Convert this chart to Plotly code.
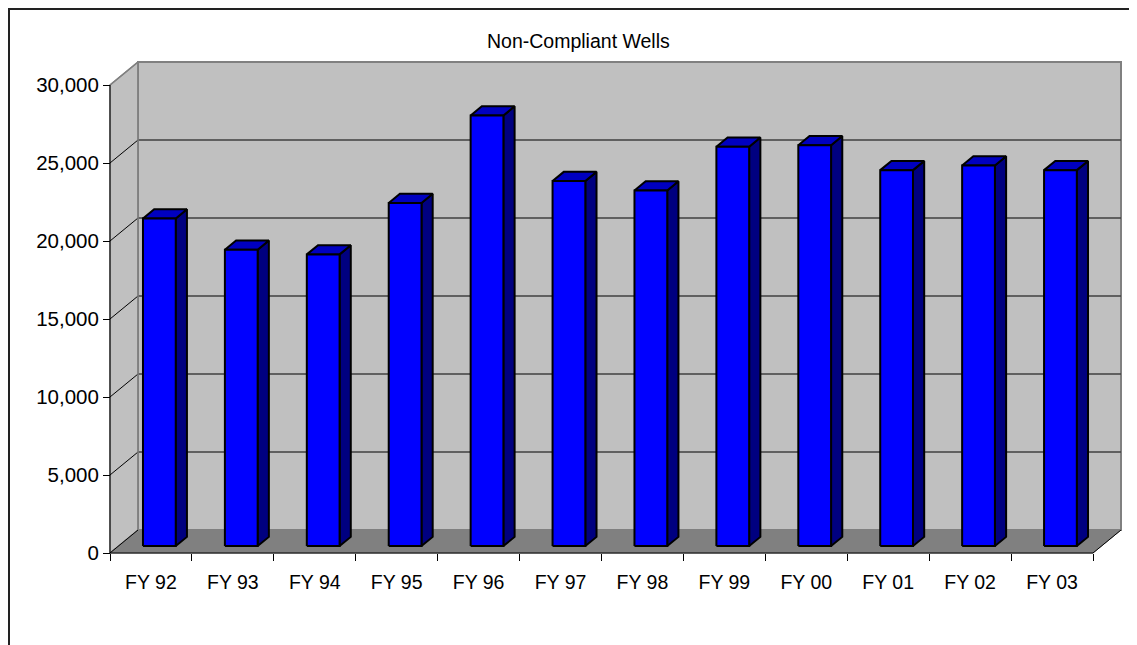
import plotly.graph_objects as go

categories = ["FY 92", "FY 93", "FY 94", "FY 95", "FY 96", "FY 97",
              "FY 98", "FY 99", "FY 00", "FY 01", "FY 02", "FY 03"]
wells = [21000, 19000, 18700, 22000, 27600, 23400,
         22800, 25600, 25700, 24100, 24400, 24100]
y_ticks = [0, 5000, 10000, 15000, 20000, 25000, 30000]
chart_title = "Non-Compliant Wells"

# the page body has an 8px margin, so the figure is shifted by that much
OFF = 8
W, H = 1137 - OFF, 645 - OFF
FONT = "Liberation Sans, Arial, sans-serif"

# front plane of the 3d box (page pixels) and the shift to the back wall
FRONT_L, FRONT_R, FRONT_B, FRONT_T = 110 - OFF, 1093 - OFF, 553 - OFF, 85 - OFF
DEPTH_X_PX, DEPTH_Y_PX = 28, 23
PAD = 4

n = len(categories)
ymax = y_ticks[-1]
cat_px = (FRONT_R - FRONT_L) / n
val_px = (FRONT_B - FRONT_T) / ymax
DX = DEPTH_X_PX / cat_px
DY = DEPTH_Y_PX / val_px

x0, x1 = -0.5, n - 0.5
xr = [x0 - PAD / cat_px, x1 + DX + PAD / cat_px]
yr = [-PAD / val_px, ymax + DY + PAD / val_px]

plot_l = FRONT_L - PAD
plot_b = FRONT_B + PAD
plot_w = (xr[1] - xr[0]) * cat_px
plot_h = (yr[1] - yr[0]) * val_px


def px(x):
    return (x - OFF - plot_l) / plot_w


def py(y):
    return (plot_b - (y - OFF)) / plot_h


def polys(shapes):
    xs, ys = [], []
    for pts in shapes:
        for a, b in pts + [pts[0]]:
            xs.append(a)
            ys.append(b)
        xs.append(None)
        ys.append(None)
    return xs, ys


def segs(lines):
    xs, ys = [], []
    for (a, b), (c, d) in lines:
        xs += [a, c, None]
        ys += [b, d, None]
    return xs, ys


fig = go.Figure()


def add_poly(shapes, fill, line, width):
    xs, ys = polys(shapes)
    fig.add_trace(go.Scatter(x=xs, y=ys, mode="lines", fill="toself",
                             fillcolor=fill, line=dict(color=line, width=width),
                             hoverinfo="skip", showlegend=False))


def add_lines(lines, color, width):
    xs, ys = segs(lines)
    fig.add_trace(go.Scatter(x=xs, y=ys, mode="lines",
                             line=dict(color=color, width=width),
                             hoverinfo="skip", showlegend=False))


# walls and floor
add_poly([[(x0 + DX, DY), (x1 + DX, DY), (x1 + DX, ymax + DY), (x0 + DX, ymax + DY)]],
         "#C0C0C0", "#808080", 2)
add_poly([[(x0, 0), (x0 + DX, DY), (x0 + DX, ymax + DY), (x0, ymax)]],
         "#C0C0C0", "#808080", 1.5)
add_poly([[(x0, 0), (x1, 0), (x1 + DX, DY), (x0 + DX, DY)]],
         "#808080", "#808080", 1)

# gridlines
grid = [v for v in y_ticks if 0 < v < ymax]
add_lines([((x0 + DX, v + DY), (x1 + DX, v + DY)) for v in grid], "#404040", 1.5)
add_lines([((x0, v), (x0 + DX, v + DY)) for v in grid], "#000000", 1)
add_lines([((x0, ymax), (x0 + DX, ymax + DY)), ((x0 + DX, DY), (x0 + DX, ymax + DY))],
          "#808080", 1.5)

# axis lines of the box
add_lines([((x0, 0), (x1, 0)), ((x0, 0), (x0, ymax)),
           ((x1, 0), (x1 + DX, DY)), ((x0, 0), (x0 + DX, DY))], "#000000", 1)

# bars
f1, f2, hw = 0.3, 0.7, 0.2
fronts, sides, tops = [], [], []
for i, v in enumerate(wells):
    la, ra = i - hw + f1 * DX, i + hw + f1 * DX
    lb, rb = i - hw + f2 * DX, i + hw + f2 * DX
    ya, yb = f1 * DY, f2 * DY
    fronts.append([(la, ya), (ra, ya), (ra, ya + v), (la, ya + v)])
    sides.append([(ra, ya), (rb, yb), (rb, yb + v), (ra, ya + v)])
    tops.append([(la, ya + v), (ra, ya + v), (rb, yb + v), (lb, yb + v)])

add_poly(sides, "#000080", "#000000", 2)
add_poly(tops, "#0000C0", "#000000", 2)
add_poly(fronts, "#0000FF", "#000000", 2)

fig.update_layout(
    width=W, height=H,
    margin=dict(l=plot_l, r=W - plot_l - plot_w, t=plot_b - plot_h, b=H - plot_b,
                pad=0, autoexpand=False),
    paper_bgcolor="white", plot_bgcolor="rgba(0,0,0,0)",
    font=dict(family=FONT, size=19.5, color="black"),
    showlegend=False,
    xaxis=dict(range=xr, showgrid=False, zeroline=False, showline=False,
               anchor="free", position=py(553),
               tickmode="array", tickvals=list(range(n)), ticktext=categories,
               ticks="", ticklabelstandoff=15,
               minor=dict(tickmode="array", tickvals=[i - 0.5 for i in range(n + 1)],
                          ticks="outside", ticklen=7, tickcolor="black", tickwidth=1)),
    yaxis=dict(range=yr, showgrid=False, zeroline=False, showline=False,
               anchor="free", position=px(110),
               tickmode="array", tickvals=y_ticks,
               ticktext=[f"{v:,}" for v in y_ticks],
               ticks="outside", ticklen=7, tickcolor="black", tickwidth=1,
               tickfont=dict(size=20.5)),
    annotations=[dict(text=chart_title, xref="paper", yref="paper",
                      x=px(578), y=py(41), xanchor="center", yanchor="middle",
                      showarrow=False, font=dict(size=19.5))],
    shapes=[dict(type="rect", xref="paper", yref="paper",
                 x0=px(9), x1=px(1160), y0=py(680), y1=py(9),
                 line=dict(color="#222222", width=2), fillcolor="rgba(0,0,0,0)",
                 layer="below")],
)

fig.write_html("out.html")
